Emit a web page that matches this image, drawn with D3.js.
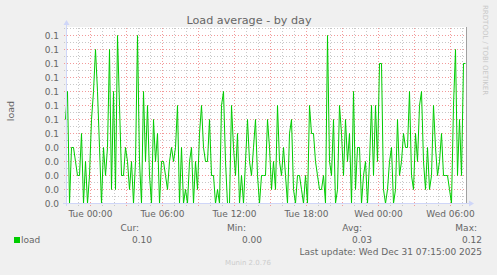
<!DOCTYPE html>
<html>
<head>
<meta charset="utf-8">
<script src="https://cdn.jsdelivr.net/npm/d3@7"></script>
<style>
  body { margin: 0; background: #F0F0F0; }
  svg { display: block; font-family: "DejaVu Sans", sans-serif; }
</style>
</head>
<body>
<svg id="chart"></svg>
<script>
// 5 minute load average, one value every 10 minutes (Mon 21:55 -> Wed 07:15)
const startTime = Date.UTC(2025, 11, 29, 21, 55);
const stepMinutes = 10;
const loadValues = [
  0.06, 0.08, 0.00, 0.04, 0.04, 0.03, 0.02, 0.02, 0.05, 0.00,
  0.03, 0.00, 0.02, 0.06, 0.08, 0.11, 0.08, 0.04, 0.00, 0.04,
  0.02, 0.04, 0.11, 0.01, 0.08, 0.01, 0.12, 0.07, 0.02, 0.02,
  0.04, 0.03, 0.01, 0.03, 0.00, 0.03, 0.12, 0.03, 0.00, 0.08,
  0.03, 0.07, 0.02, 0.00, 0.06, 0.03, 0.05, 0.00, 0.03, 0.03,
  0.02, 0.01, 0.03, 0.04, 0.03, 0.04, 0.07, 0.00, 0.04, 0.00,
  0.01, 0.00, 0.03, 0.04, 0.00, 0.03, 0.01, 0.05, 0.07, 0.04,
  0.03, 0.03, 0.06, 0.02, 0.02, 0.00, 0.01, 0.00, 0.07, 0.08,
  0.03, 0.00, 0.00, 0.07, 0.04, 0.02, 0.05, 0.00, 0.02, 0.00,
  0.03, 0.06, 0.03, 0.02, 0.04, 0.06, 0.02, 0.00, 0.02, 0.02,
  0.02, 0.06, 0.04, 0.01, 0.03, 0.01, 0.07, 0.03, 0.02, 0.04,
  0.02, 0.00, 0.05, 0.06, 0.01, 0.00, 0.02, 0.02, 0.01, 0.00,
  0.02, 0.00, 0.07, 0.05, 0.05, 0.03, 0.02, 0.01, 0.01, 0.02,
  0.00, 0.12, 0.03, 0.02, 0.06, 0.00, 0.01, 0.07, 0.05, 0.02,
  0.06, 0.03, 0.05, 0.00, 0.08, 0.01, 0.04, 0.04, 0.00, 0.02,
  0.03, 0.00, 0.03, 0.07, 0.02, 0.07, 0.03, 0.10, 0.10, 0.01,
  0.00, 0.01, 0.03, 0.04, 0.00, 0.01, 0.06, 0.02, 0.03, 0.05,
  0.04, 0.04, 0.08, 0.02, 0.01, 0.05, 0.03, 0.07, 0.08, 0.03,
  0.01, 0.04, 0.01, 0.02, 0.07, 0.04, 0.02, 0.03, 0.05, 0.02,
  0.02, 0.02, 0.01, 0.00, 0.07, 0.11, 0.02, 0.06, 0.02, 0.10,
  0.10
];

const yTicks = [0, 0.01, 0.02, 0.03, 0.04, 0.05, 0.06, 0.07, 0.08, 0.09, 0.10, 0.11, 0.12];
const yTickLabels = ["0.0", "0.0", "0.0", "0.0", "0.0", "0.1", "0.1", "0.1", "0.1", "0.1", "0.1", "0.1", "0.1"];
const xTickLabels = ["Tue 00:00", "Tue 06:00", "Tue 12:00", "Tue 18:00", "Wed 00:00", "Wed 06:00"];
const statLabels = ["Cur:", "Min:", "Avg:", "Max:"];
const statValues = [0.10, 0.00, 0.03, 0.12];
const seriesName = "load";

const width = 497;
const height = 275;

const data = loadValues.map((v, i) => ({ time: new Date(startTime + i * stepMinutes * 60000), value: v }));
const endTime = data[data.length - 1].time;

const xScale = d3.scaleUtc()
    .domain([new Date(startTime), endTime])
    .range([65.5, 465.5]);

const yScale = d3.scaleLinear()
    .domain([0, 0.12571])
    .range([203.5, 27.5]);

const svg = d3.select("#chart")
    .attr("width", width)
    .attr("height", height);

// canvas
svg.append("rect")
    .attr("x", 67)
    .attr("y", 27)
    .attr("width", 400)
    .attr("height", 177)
    .attr("fill", "#ffffff");

// grid: minor every hour, major every 3 hours
const hours = d3.utcHour.range(new Date(startTime), endTime);
const minorX = hours.filter(d => d.getUTCHours() % 3 !== 0);
const majorX = hours.filter(d => d.getUTCHours() % 3 === 0);
const minorY = d3.range(0.005, 0.126, 0.01);

const minorColor = "#c8c8c8";
const majorColor = "#f29a9a";

// pixel column / row of a value
const colOf = d => Math.floor(xScale(d)) + 0.5;
const rowOf = v => Math.floor(yScale(v)) + 0.5;

function gridLines(cls, values, vertical, color) {
    svg.append("g").selectAll("line")
        .data(values)
        .enter()
        .append("line")
        .attr("class", cls)
        .attr("x1", d => vertical ? colOf(d) : 64)
        .attr("x2", d => vertical ? colOf(d) : 467)
        .attr("y1", d => vertical ? 28 : rowOf(d))
        .attr("y2", d => vertical ? 206 : rowOf(d))
        .attr("stroke", color)
        .attr("stroke-width", 1)
        .attr("stroke-dasharray", "1,2");
}

gridLines("minor-x", minorX, true, minorColor);
gridLines("minor-y", minorY, false, minorColor);
gridLines("major-x", majorX, true, majorColor);
gridLines("major-y", yTicks, false, majorColor);

// right edge rule
svg.append("line")
    .attr("x1", 466.5)
    .attr("x2", 466.5)
    .attr("y1", 27)
    .attr("y2", 204)
    .attr("stroke", "#a0a0a0");

// data line
const line = d3.line()
    .x(d => xScale(d.time))
    .y(d => yScale(d.value));

svg.append("path")
    .datum(data)
    .attr("d", line)
    .attr("fill", "none")
    .attr("stroke", "#00CC00")
    .attr("stroke-width", 1);

// axes with arrows
const axisColor = "#CFD6F8";
svg.append("line")
    .attr("x1", 63).attr("x2", 470)
    .attr("y1", 203.5).attr("y2", 203.5)
    .attr("stroke", axisColor);
svg.append("line")
    .attr("x1", 66.5).attr("x2", 66.5)
    .attr("y1", 206).attr("y2", 22)
    .attr("stroke", axisColor);
svg.append("path")
    .attr("d", "M469,200.5 L474,203.5 L469,206.5 Z")
    .attr("fill", axisColor);
svg.append("path")
    .attr("d", "M63.5,25 L66.5,20 L69.5,25 Z")
    .attr("fill", axisColor);

// y tick labels
svg.selectAll(".ylabel")
    .data(yTicks)
    .enter()
    .append("text")
    .attr("x", 59)
    .attr("y", d => yScale(d) + 3.5)
    .attr("text-anchor", "end")
    .attr("font-size", "9px")
    .attr("fill", "#666666")
    .text((d, i) => yTickLabels[i]);

// x tick labels every 6 hours
const labelTimes = hours.filter(d => d.getUTCHours() % 6 === 0);
svg.selectAll(".xlabel")
    .data(labelTimes)
    .enter()
    .append("text")
    .attr("x", d => xScale(d))
    .attr("y", 217)
    .attr("text-anchor", "middle")
    .attr("font-size", "9px")
    .attr("fill", "#666666")
    .text((d, i) => xTickLabels[i]);

// title
svg.append("text")
    .attr("x", 249)
    .attr("y", 24)
    .attr("text-anchor", "middle")
    .attr("font-size", "11.2px")
    .attr("fill", "#666666")
    .text("Load average - by day");

// vertical label
svg.append("text")
    .attr("transform", "translate(14,111) rotate(-90)")
    .attr("text-anchor", "middle")
    .attr("font-size", "9.5px")
    .attr("fill", "#666666")
    .text("load");

// watermark
svg.append("text")
    .attr("transform", "translate(483,5) rotate(90)")
    .attr("text-anchor", "start")
    .attr("font-size", "7px")
    .attr("fill", "#c8c8c8")
    .text("RRDTOOL / TOBI OETIKER");

// legend
svg.append("rect")
    .attr("x", 14).attr("y", 237)
    .attr("width", 6).attr("height", 6)
    .attr("fill", "#00CC00");
svg.append("text")
    .attr("x", 21).attr("y", 243)
    .attr("font-size", "9px")
    .attr("fill", "#666666")
    .text(seriesName);

const statLabelX = [139, 246, 362, 477];
const statValueX = [152, 262, 372, 482];
svg.selectAll(".statlabel")
    .data(statLabels)
    .enter()
    .append("text")
    .attr("x", (d, i) => statLabelX[i])
    .attr("y", 231)
    .attr("text-anchor", "end")
    .attr("font-size", "9px")
    .attr("fill", "#666666")
    .text(d => d);
svg.selectAll(".statvalue")
    .data(statValues)
    .enter()
    .append("text")
    .attr("x", (d, i) => statValueX[i])
    .attr("y", 243)
    .attr("text-anchor", "end")
    .attr("font-size", "9px")
    .attr("fill", "#666666")
    .text(d => d3.format(".2f")(d));

svg.append("text")
    .attr("x", 482).attr("y", 255)
    .attr("text-anchor", "end")
    .attr("font-size", "9px")
    .attr("fill", "#666666")
    .text("Last update: Wed Dec 31 07:15:00 2025");

svg.append("text")
    .attr("x", 248).attr("y", 265)
    .attr("text-anchor", "middle")
    .attr("font-size", "7px")
    .attr("fill", "#cccccc")
    .text("Munin 2.0.76");
</script>
</body>
</html>
